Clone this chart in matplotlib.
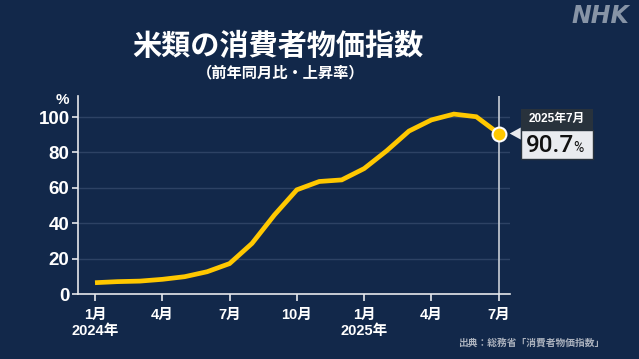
import matplotlib

matplotlib.use("Agg")
import matplotlib.pyplot as plt
from matplotlib.patches import Rectangle, Polygon

plt.rcParams["font.family"] = ["Noto Sans CJK JP", "DejaVu Sans"]
NUM_FONT = ["Liberation Sans", "Noto Sans CJK JP"]

# 2024年1月 ～ 2025年7月 (月次)
months = list(range(19))
values = [6.4, 7.0, 7.3, 8.3, 9.8, 12.6, 17.2, 28.6, 44.7, 58.9,
          63.6, 64.5, 70.9, 80.9, 92.1, 98.4, 101.7, 100.2, 90.7]
tick_pos = [0, 3, 6, 9, 12, 15, 18]
tick_labels = ["1月\n2024年", "4月", "7月", "10月", "1月\n2025年", "4月", "7月"]
yticks = [0, 20, 40, 60, 80, 100]
last_label = "2025年7月"

BG = "#12284a"
GOLD = "#ffc800"

fig = plt.figure(figsize=(6.39, 3.59), dpi=100, facecolor=BG)
ax = fig.add_axes([0.122, 0.181, 0.676, 0.552])
ax.set_facecolor(BG)

ax.plot(months, values, color=GOLD, linewidth=3.4, solid_capstyle="butt",
        solid_joinstyle="miter", zorder=3)
ax.axvline(months[-1], color="#c9ced6", linewidth=1.2, zorder=2)
ax.plot(months[-1], values[-1], "o", color=GOLD, markersize=10,
        markeredgecolor="white", markeredgewidth=1.5, zorder=4)

ax.set_xlim(-0.76, 18.5)
ax.set_ylim(0, 112)
ax.set_yticks(yticks)
ax.set_yticklabels([str(v) for v in yticks])
ax.set_xticks(tick_pos)
ax.set_xticklabels(tick_labels, linespacing=1.15)
for v in yticks[1:]:
    ax.axhline(v, color="#2d4264", linewidth=1.0, zorder=1)

for s in ["top", "right"]:
    ax.spines[s].set_visible(False)
for s in ["left", "bottom"]:
    ax.spines[s].set_color("#e6e8ec")
    ax.spines[s].set_linewidth(1.2)
ax.tick_params(axis="y", colors="#e6e8ec", length=4, width=1.2, pad=2,
               labelsize=13.5, labelcolor="white")
ax.tick_params(axis="x", colors="#e6e8ec", length=5, width=1.2, pad=5,
               labelsize=10.5, labelcolor="white")
for lab in ax.get_yticklabels() + ax.get_xticklabels():
    lab.set_fontweight("bold")
    lab.set_family(NUM_FONT)

fig.text(0.098, 0.722, "%", color="white", fontsize=11, fontweight="bold",
         ha="center", va="center", family=NUM_FONT)

fig.text(0.435, 0.873, "米類の消費者物価指数", color="white", fontsize=21,
         fontweight="bold", ha="center", va="center")
fig.text(0.44, 0.797, "（前年同月比・上昇率）", color="white", fontsize=11,
         fontweight="bold", ha="center", va="center")
fig.text(0.985, 0.955, "NHK", color="#8794a6", fontsize=17, fontweight="bold",
         fontstyle="italic", ha="right", va="center", family="DejaVu Sans")
fig.text(0.945, 0.045, "出典：総務省「消費者物価指数」", color="#aab1bd",
         fontsize=7, fontweight="bold", ha="right", va="center")

# callout box next to the last point
fig.canvas.draw()
px, py = ax.transData.transform((months[-1], values[-1]))
W, H = fig.bbox.width, fig.bbox.height
x0 = px + 22
bw = 72
top_h, bot_h = 21, 29
ytop = py + 25
fig.patches.append(Rectangle(((x0) / W, (ytop - top_h) / H), bw / W, top_h / H,
                             transform=fig.transFigure, facecolor="#28323c",
                             edgecolor="none", zorder=5))
fig.patches.append(Rectangle((x0 / W, (ytop - top_h - bot_h) / H), bw / W, bot_h / H,
                             transform=fig.transFigure, facecolor="#e9ebef",
                             edgecolor="#28323c", linewidth=1.0, zorder=5))
fig.patches.append(Polygon([((x0 - 11) / W, py / H), (x0 / W, (py + 6) / H),
                            (x0 / W, (py - 6) / H)], closed=True,
                           transform=fig.transFigure, facecolor="#e9ebef",
                           edgecolor="none", zorder=5))
fig.text((x0 + bw / 2) / W, (ytop - top_h / 2) / H, last_label, color="white",
         fontsize=8.5, fontweight="bold", ha="center", va="center", zorder=6,
         family=NUM_FONT)
fig.text((x0 + 5) / W, (ytop - top_h - bot_h / 2 - 1) / H, f"{values[-1]:.1f}",
         color="#111111", fontsize=17.5, fontweight="medium", ha="left",
         va="center", zorder=6, family=["Roboto", "Liberation Sans"])
fig.text((x0 + 53) / W, (ytop - top_h - bot_h / 2 - 4) / H, "%",
         color="#111111", fontsize=10, ha="left", va="center", zorder=6,
         family=["Roboto", "Liberation Sans"])

fig.savefig("out.png", dpi=100, facecolor=BG)
